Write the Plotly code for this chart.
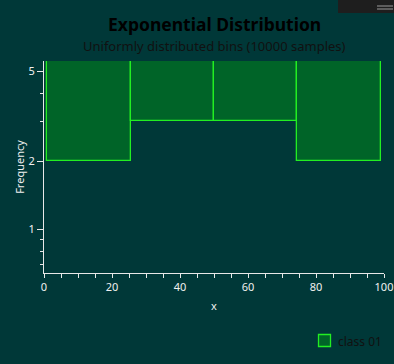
import plotly.graph_objects as go

# Data
bin_edges = [1.0, 25.5, 50.0, 74.5, 99.0]
frequencies = [2, 3, 3, 2]
series_name = "class 01"
x_ticks = [0, 20, 40, 60, 80, 100]
y_major = [1, 2, 5]
y_minor = [0.7, 0.8, 0.9, 3, 4]

centers = [(a + b) / 2 for a, b in zip(bin_edges[:-1], bin_edges[1:])]
widths = [b - a for a, b in zip(bin_edges[:-1], bin_edges[1:])]

BG = "#003838"
AX = "#e8e8e8"
FONT = "Noto Sans"
FILL = "#006428"
EDGE = "#22ee22"
PW, PH = 340, 212  # plot area size in px

fig = go.Figure()
fig.add_trace(go.Bar(
    x=centers, y=[1e4] * len(frequencies), base=frequencies, width=widths,
    name=series_name, showlegend=False,
    marker=dict(color=FILL, line=dict(color=EDGE, width=1.3)),
))

fig.update_layout(
    width=394, height=364,
    margin=dict(l=44, r=10, t=61, b=91, autoexpand=False),
    paper_bgcolor=BG, plot_bgcolor=BG,
    font=dict(family=FONT, color=AX, size=11),
    showlegend=False,
    bargap=0,
)
fig.update_xaxes(
    range=[0, 100], tickvals=x_ticks, showgrid=False, zeroline=False,
    showline=True, linecolor=AX, linewidth=1, automargin=False,
    ticks="outside", ticklen=4, tickcolor=AX, tickwidth=1,
    minor=dict(dtick=5, ticks="outside", ticklen=4, tickcolor=AX),
    tickfont=dict(color="#f0f0f0", size=11),
    title=dict(text="x", font=dict(color="#f0f0f0", size=11), standoff=9),
)
fig.update_yaxes(
    type="log", range=[-0.1935, 0.7437], tickvals=y_major,
    ticktext=[str(v) for v in y_major], showgrid=False, zeroline=False,
    showline=True, linecolor=AX, linewidth=1, automargin=False,
    ticks="outside", ticklen=6, tickcolor=AX, tickwidth=1,
    minor=dict(tickvals=y_minor, ticks="outside", ticklen=3, tickcolor=AX, showgrid=False),
    tickfont=dict(color="#f0f0f0", size=11),
    title=dict(text="Frequency", font=dict(color="#f0f0f0", size=11), standoff=1),
)

def px(xp):
    return (xp - 44) / PW

def py(yp):
    return 1 + (61 - yp) / PH

fig.add_annotation(text="<b>Exponential Distribution</b>", xref="paper", yref="paper",
                   x=0.5, y=py(24), yanchor="middle", showarrow=False,
                   font=dict(size=17.5, color="#000000", family=FONT))
fig.add_annotation(text="Uniformly distributed bins (10000 samples)", xref="paper", yref="paper",
                   x=0.5, y=py(46), yanchor="middle", showarrow=False,
                   font=dict(size=13, color="#111111", family=FONT))

# legend (manual)
fig.add_shape(type="rect", xref="paper", yref="paper",
              x0=px(318.5), x1=px(330.5), y0=py(346.5), y1=py(334.5),
              fillcolor=FILL, line=dict(color=EDGE, width=1.3))
fig.add_annotation(text=series_name, xref="paper", yref="paper",
                   x=px(336), y=py(341), xanchor="left", yanchor="middle", showarrow=False,
                   font=dict(size=12, color="#111111", family=FONT))

# window chrome strip at top-right
fig.add_shape(type="rect", xref="paper", yref="paper",
              x0=px(338), x1=px(394), y0=py(13), y1=py(0),
              fillcolor="#1e1e1e", line=dict(width=0), layer="above")
for yy in (6, 9):
    fig.add_shape(type="line", xref="paper", yref="paper",
                  x0=px(377), x1=px(393), y0=py(yy), y1=py(yy),
                  line=dict(color="#9a9a9a", width=1), layer="above")

fig.write_html("out.html")
